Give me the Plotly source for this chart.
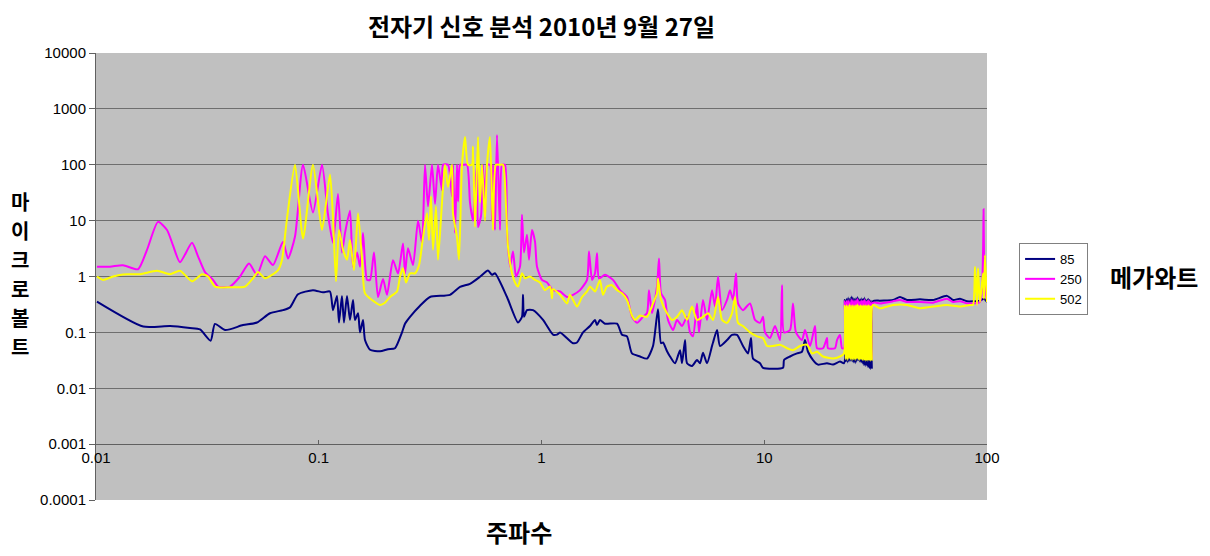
import plotly.graph_objects as go

# ---------------- data (frequency in MHz, amplitude in microvolt) ----------------
series_names = ["85", "250", "502"]

block_f = [23.0, 23.2, 23.4, 23.6, 23.8, 24.0, 24.2, 24.4, 24.6, 24.8, 25.0, 25.2, 25.4,
           25.6, 25.8, 26.0, 26.2, 26.4, 26.6, 26.8, 27.0, 27.2, 27.4, 27.6, 27.8, 28.0,
           28.2, 28.4, 28.6, 28.8, 29.0, 29.2, 29.4, 29.6, 29.8, 30.0, 30.2, 30.4]

f_85 = [0.0101, 0.0163, 0.0215, 0.0264, 0.0293, 0.0327, 0.0342, 0.0380, 0.0457, 0.0528,
        0.0604, 0.0691, 0.0743, 0.0807, 0.0942, 0.1045, 0.1123, 0.1159, 0.1207, 0.1233,
        0.1271, 0.1298, 0.1339, 0.1381, 0.1425, 0.1454, 0.1501, 0.1532, 0.1580, 0.1613,
        0.1699, 0.1884, 0.2046, 0.2199, 0.2365, 0.2439, 0.2569, 0.2849, 0.3158, 0.3884,
        0.4307, 0.4775, 0.5295, 0.5751, 0.5994, 0.6182, 0.6999, 0.7843, 0.8174, 0.8259,
        0.8345, 0.8608, 0.9159, 1.016, 1.126, 1.174, 1.211, 1.385, 1.443, 1.536,
        1.651, 1.739, 1.775, 1.830, 1.928, 2.183, 2.298, 2.420, 2.548, 2.768,
        2.976, 3.167, 3.334, 3.440, 3.512, 3.660, 3.776, 3.976, 4.187, 4.274,
        4.409, 4.501, 4.739, 4.991, 5.148, 5.309, 5.534, 5.828, 5.889, 6.138,
        6.330, 6.806, 7.166, 7.547, 8.028, 8.453, 8.720, 8.902, 9.570, 9.871,
        12.14, 12.27, 13.05, 14.03, 14.77, 15.24, 15.72, 16.56, 17.43, 19.13,
        20.35, 21.88, 22.80] + block_f + [
        30.77, 33.07, 37.84, 40.67, 43.74, 50.03, 57.23, 66.14, 70.37, 75.65,
        81.34, 86.53, 93.03, 97.0, 100.0]
v_85 = [0.356, 0.127, 0.130, 0.120, 0.113, 0.071, 0.142, 0.110, 0.135, 0.150,
        0.220, 0.250, 0.280, 0.480, 0.570, 0.520, 0.540, 0.250, 0.450, 0.150,
        0.450, 0.150, 0.450, 0.167, 0.380, 0.167, 0.220, 0.100, 0.167, 0.073,
        0.049, 0.046, 0.050, 0.052, 0.100, 0.143, 0.190, 0.300, 0.430, 0.470,
        0.650, 0.740, 0.990, 1.280, 1.070, 1.140, 0.430, 0.150, 0.190, 0.470,
        0.190, 0.250, 0.250, 0.167, 0.091, 0.091, 0.100, 0.064, 0.066, 0.100,
        0.130, 0.167, 0.135, 0.167, 0.143, 0.143, 0.091, 0.085, 0.042, 0.037,
        0.034, 0.057, 0.260, 0.064, 0.066, 0.046, 0.037, 0.028, 0.048, 0.028,
        0.073, 0.028, 0.025, 0.032, 0.028, 0.043, 0.028, 0.057, 0.066, 0.110,
        0.057, 0.073, 0.090, 0.090, 0.057, 0.042, 0.079, 0.034, 0.028, 0.0232,
        0.0232, 0.032, 0.037, 0.042, 0.045, 0.073, 0.045, 0.032, 0.0265, 0.028,
        0.0265, 0.030, 0.028,
        0.38, 0.030, 0.40, 0.029, 0.42, 0.030, 0.40, 0.031, 0.44, 0.030, 0.42, 0.029,
        0.40, 0.028, 0.41, 0.030, 0.43, 0.032, 0.40, 0.030, 0.39, 0.029, 0.41, 0.028,
        0.40, 0.026, 0.42, 0.025, 0.38, 0.026, 0.39, 0.024, 0.40, 0.023, 0.38, 0.022,
        0.37, 0.023,
        0.36, 0.37, 0.38, 0.43, 0.38, 0.39, 0.38, 0.45, 0.38, 0.40,
        0.36, 0.36, 0.37, 0.40, 0.35]

f_250 = [0.0101, 0.01156, 0.01322, 0.01544, 0.01694, 0.01898, 0.02084, 0.02217, 0.02383, 0.02698,
         0.02871, 0.03085, 0.03352, 0.03530, 0.03995, 0.04432, 0.04863, 0.05283, 0.05738, 0.06232,
         0.06911, 0.07278, 0.07824, 0.0850, 0.0942, 0.1034, 0.1100, 0.1159, 0.1220, 0.1271,
         0.1312, 0.1381, 0.1425, 0.1485, 0.1532, 0.1580, 0.1647, 0.1699, 0.1770, 0.1845,
         0.1943, 0.2025, 0.2154, 0.2269, 0.2389, 0.2439, 0.2516, 0.2650, 0.2791, 0.2909,
         0.2999, 0.3094, 0.3224, 0.3326, 0.3431, 0.3575, 0.3613, 0.3804, 0.3965, 0.4006,
         0.4090, 0.4176, 0.4219, 0.4307, 0.4443, 0.4630, 0.4775, 0.4926, 0.5029, 0.5133,
         0.5187, 0.5350, 0.5462, 0.5576, 0.5692, 0.5871, 0.5994, 0.6056, 0.6182, 0.6312,
         0.6511, 0.6647, 0.6856, 0.6999, 0.7220, 0.7448, 0.7683, 0.8007, 0.8174, 0.8345,
         0.8608, 0.8788, 0.9065, 0.9350, 0.9545, 1.005, 1.059, 1.126, 1.211, 1.302,
         1.385, 1.489, 1.601, 1.634, 1.686, 1.739, 1.775, 1.812, 1.928, 2.094,
         2.251, 2.420, 2.548, 2.684, 2.855, 2.976, 3.038, 3.134, 3.300, 3.369,
         3.440, 3.585, 3.698, 3.894, 4.059, 4.274, 4.501, 4.642, 4.788, 4.991,
         5.096, 5.309, 5.534, 5.828, 6.012, 6.202, 6.463, 6.806, 7.020, 7.241,
         7.469, 7.624, 8.028, 8.630, 9.088, 9.570, 9.871, 10.08, 10.61, 11.18,
         11.77, 12.02, 12.27, 13.05, 13.46, 13.88, 14.77, 15.24, 16.05, 16.90,
         17.26, 18.36, 19.13, 19.33, 20.78, 21.22, 21.88, 22.34, 22.80] + block_f + [
         30.77, 33.07, 37.84, 40.67, 43.74, 50.03, 57.23, 66.14, 70.37, 75.65,
         81.34, 86.53, 93.03, 95.95, 96.5, 96.95, 98.0, 100.0]
v_250 = [1.50, 1.50, 1.59, 1.35, 3.0, 9.5, 6.8, 3.6, 1.8, 4.0,
         2.3, 1.2, 0.87, 0.66, 0.66, 1.0, 1.7, 1.07, 2.3, 1.6,
         4.2, 2.1, 5.2, 100, 14, 100, 13, 4.0, 30, 2.7,
         6.0, 15, 1.5, 2.7, 1.5, 6.0, 0.87, 0.87, 2.7, 0.43,
         0.90, 0.47, 1.96, 1.13, 3.9, 1.13, 3.2, 1.6, 10, 4.0,
         100, 18, 100, 20, 100, 35, 100, 100, 27, 100,
         6.0, 100, 22, 100, 100, 100, 21, 10, 40, 100,
         7.7, 12, 100, 11, 100, 100, 10, 100, 6.8, 340,
         6.8, 100, 100, 6.8, 1.5, 2.8, 1.0, 1.5, 12.7, 2.7,
         5.6, 2.0, 6.8, 4.2, 1.5, 0.87, 0.78, 0.57, 0.54, 0.43,
         0.47, 0.57, 0.87, 2.8, 0.87, 1.14, 2.6, 0.92, 1.07, 0.87,
         0.57, 0.43, 0.19, 0.148, 0.19, 0.22, 0.57, 0.22, 0.66, 2.1,
         0.50, 0.38, 0.167, 0.11, 0.167, 0.13, 0.19, 0.10, 0.085, 0.33,
         0.10, 0.38, 0.167, 0.57, 0.29, 1.0, 0.25, 0.38, 0.57, 0.38,
         1.14, 0.33, 0.25, 0.33, 0.167, 0.148, 0.19, 0.10, 0.079, 0.13,
         0.073, 0.70, 0.10, 0.11, 0.33, 0.10, 0.073, 0.11, 0.057, 0.13,
         0.052, 0.052, 0.079, 0.052, 0.052, 0.073, 0.09, 0.052, 0.052,
         0.36, 0.045, 0.37, 0.040, 0.38, 0.045, 0.36, 0.042, 0.39, 0.040, 0.38, 0.044,
         0.37, 0.041, 0.38, 0.043, 0.40, 0.045, 0.37, 0.042, 0.36, 0.040, 0.38, 0.041,
         0.37, 0.038, 0.39, 0.036, 0.36, 0.037, 0.37, 0.035, 0.38, 0.034, 0.36, 0.033,
         0.35, 0.034,
         0.34, 0.33, 0.36, 0.38, 0.35, 0.35, 0.34, 0.40, 0.35, 0.36,
         0.33, 0.33, 0.35, 2.6, 16, 2.6, 0.6, 0.38]

f_502 = [0.0101, 0.01075, 0.01192, 0.01322, 0.01576, 0.01879, 0.02149, 0.02383, 0.02698, 0.02991,
         0.03183, 0.03422, 0.03995, 0.04666, 0.05068, 0.05338, 0.05738, 0.06168, 0.06563, 0.06840,
         0.07203, 0.07824, 0.0850, 0.09423, 0.1034, 0.1123, 0.1159, 0.1195, 0.1233, 0.1285,
         0.1339, 0.1381, 0.1439, 0.1501, 0.1564, 0.1613, 0.1735, 0.1884, 0.1984, 0.2089,
         0.2245, 0.2317, 0.2389, 0.2465, 0.2569, 0.2705, 0.2820, 0.2938, 0.3062, 0.3126,
         0.3191, 0.3258, 0.3360, 0.3431, 0.3575, 0.3688, 0.3804, 0.3965, 0.4006, 0.4176,
         0.4262, 0.4397, 0.4536, 0.4677, 0.4875, 0.4926, 0.5029, 0.5187, 0.5295, 0.5406,
         0.5576, 0.5692, 0.5871, 0.6056, 0.6246, 0.6511, 0.6716, 0.6928, 0.7072, 0.7371,
         0.7603, 0.7843, 0.8174, 0.8432, 0.8879, 0.9350, 0.9847, 1.037, 1.092, 1.115,
         1.126, 1.211, 1.302, 1.342, 1.443, 1.520, 1.601, 1.651, 1.739, 1.830,
         1.888, 1.968, 2.072, 2.183, 2.298, 2.420, 2.548, 2.629, 2.768, 2.976,
         3.167, 3.300, 3.334, 3.440, 3.660, 3.855, 4.059, 4.274, 4.501, 4.739,
         4.991, 5.309, 5.592, 5.889, 6.202, 6.463, 6.806, 7.166, 7.393, 7.624,
         8.028, 8.630, 9.279, 9.871, 10.29, 10.95, 11.77, 12.65, 13.46, 14.47,
         15.56, 16.39, 17.26, 18.36, 20.35, 21.88, 22.80] + block_f + [
         30.77, 33.07, 37.84, 43.74, 50.03, 57.23, 66.14, 75.65, 83.89, 86.53,
         88.35, 90.19, 91.13, 93.03, 95.95, 96.95, 97.95, 100.0]
v_502 = [1.0, 0.87, 1.0, 1.09, 1.1, 1.27, 1.1, 1.27, 0.82, 1.1,
         1.0, 0.66, 0.64, 0.66, 0.93, 1.2, 0.93, 1.07, 1.3, 2.0,
         11, 100, 4.8, 100, 6.8, 67, 11, 0.82, 6.8, 3.0,
         2.0, 4.5, 1.3, 13.5, 2.0, 0.50, 0.38, 0.31, 0.34, 0.43,
         0.54, 1.0, 1.4, 0.78, 1.14, 1.14, 1.6, 5.0, 13.5, 4.5,
         27, 3.0, 18, 2.0, 21, 100, 40, 100, 13.5, 5.0,
         2.0, 100, 314, 100, 100, 213, 7.7, 314, 21, 100,
         10, 100, 314, 6.8, 100, 100, 100, 18, 3.4, 1.14,
         0.78, 0.66, 1.14, 0.93, 1.0, 0.87, 0.78, 0.57, 0.66, 0.41,
         0.60, 0.47, 0.33, 0.47, 0.29, 0.43, 0.54, 0.66, 0.54, 0.87,
         0.47, 0.66, 0.70, 0.57, 0.50, 0.38, 0.20, 0.167, 0.20, 0.19,
         0.33, 0.50, 0.92, 0.38, 0.22, 0.167, 0.19, 0.25, 0.167, 0.29,
         0.167, 0.19, 0.22, 0.167, 0.43, 0.167, 0.148, 0.22, 0.43, 0.148,
         0.13, 0.10, 0.085, 0.079, 0.057, 0.057, 0.060, 0.052, 0.048, 0.057,
         0.060, 0.042, 0.045, 0.037, 0.034, 0.037, 0.042,
         0.30, 0.033, 0.31, 0.032, 0.30, 0.034, 0.32, 0.033, 0.30, 0.032, 0.31, 0.033,
         0.30, 0.032, 0.31, 0.034, 0.32, 0.033, 0.30, 0.032, 0.31, 0.033, 0.30, 0.032,
         0.31, 0.032, 0.30, 0.031, 0.31, 0.032, 0.30, 0.031, 0.31, 0.032, 0.30, 0.031,
         0.30, 0.032,
         0.31, 0.27, 0.31, 0.31, 0.27, 0.29, 0.31, 0.29, 0.31, 0.31,
         1.5, 0.31, 1.4, 0.35, 1.14, 0.40, 2.4, 0.35]

y_ticks = [0.0001, 0.001, 0.01, 0.1, 1, 10, 100, 1000, 10000]
y_tick_text = ["0.0001", "0.001", "0.01", "0.1", "1", "10", "100", "1000", "10000"]
x_ticks = [0.01, 0.1, 1, 10, 100]
x_tick_text = ["0.01", "0.1", "1", "10", "100"]

title_text = "전자기 신호 분석 2010년 9월 27일"
y_title = "마이크로볼트"
x_title = "주파수"
legend_title = "메가와트"

colors = ["#000080", "#FF00FF", "#FFFF00"]

# ---------------- figure ----------------
LAT = "Liberation Sans, Arial, Noto Sans CJK KR"
KR = "Noto Sans CJK KR, Liberation Sans"
PLOT_W, PLOT_H, PLOT_L, PLOT_B = 891, 447, 96, 500

fig = go.Figure()
for name, fx, vy, c in zip(series_names, [f_85, f_250, f_502], [v_85, v_250, v_502], colors):
    fig.add_trace(go.Scatter(x=fx, y=vy, mode="lines", name=name,
                             line=dict(color=c, width=2, shape="spline", smoothing=0.6)))

fig.update_layout(
    width=1210, height=556,
    margin=dict(l=96, r=223, t=53, b=56),
    paper_bgcolor="white",
    plot_bgcolor="#C0C0C0",
    font=dict(family=LAT, size=13, color="black"),
    title=dict(text="<b>" + title_text + "</b>", x=0.4475, xanchor="center",
               y=1 - 28 / 556, yanchor="middle", yref="container",
               font=dict(family=KR, size=24, color="black")),
    showlegend=True,
    legend=dict(x=1.036, y=(PLOT_B - 243) / PLOT_H, xanchor="left", yanchor="top",
                bgcolor="white", bordercolor="#808080", borderwidth=1,
                font=dict(family=LAT, size=13, color="black"),
                tracegroupgap=0, itemwidth=30),
)

fig.update_yaxes(type="log", range=[-4, 4], tickvals=y_ticks, ticktext=y_tick_text,
                 showgrid=True, gridcolor="#6E6E6E", gridwidth=1,
                 showline=True, linecolor="#606060", linewidth=1,
                 ticks="outside", ticklen=6, tickcolor="#606060",
                 tickfont=dict(family=LAT, size=15, color="black"),
                 zeroline=False)

fig.update_xaxes(type="log", range=[-2, 2], tickvals=x_ticks, ticktext=x_tick_text,
                 anchor="free", position=0.125,
                 showgrid=False, showline=True, linecolor="#606060", linewidth=1,
                 ticks="inside", ticklen=4, tickcolor="#606060",
                 tickfont=dict(family=LAT, size=15, color="black"),
                 zeroline=False)

# vertical y-axis title: one character per row
for i, ch in enumerate(y_title):
    py = 201 + i * 29
    fig.add_annotation(text="<b>" + ch + "</b>",
                       xref="paper", yref="paper",
                       x=(20 - PLOT_L) / PLOT_W, y=(PLOT_B - py) / PLOT_H,
                       xanchor="center", yanchor="middle", showarrow=False,
                       font=dict(family=KR, size=20, color="black"))

fig.add_annotation(text="<b>" + x_title + "</b>",
                   xref="paper", yref="paper", x=(519 - PLOT_L) / PLOT_W, y=-(531 - PLOT_B) / PLOT_H,
                   xanchor="center", yanchor="middle", showarrow=False,
                   font=dict(family=KR, size=24, color="black"))
fig.add_annotation(text="<b>" + legend_title + "</b>",
                   xref="paper", yref="paper", x=(1154 - PLOT_L) / PLOT_W, y=(PLOT_B - 276) / PLOT_H,
                   xanchor="center", yanchor="middle", showarrow=False,
                   font=dict(family=KR, size=24, color="black"))

fig.write_html("out.html")
